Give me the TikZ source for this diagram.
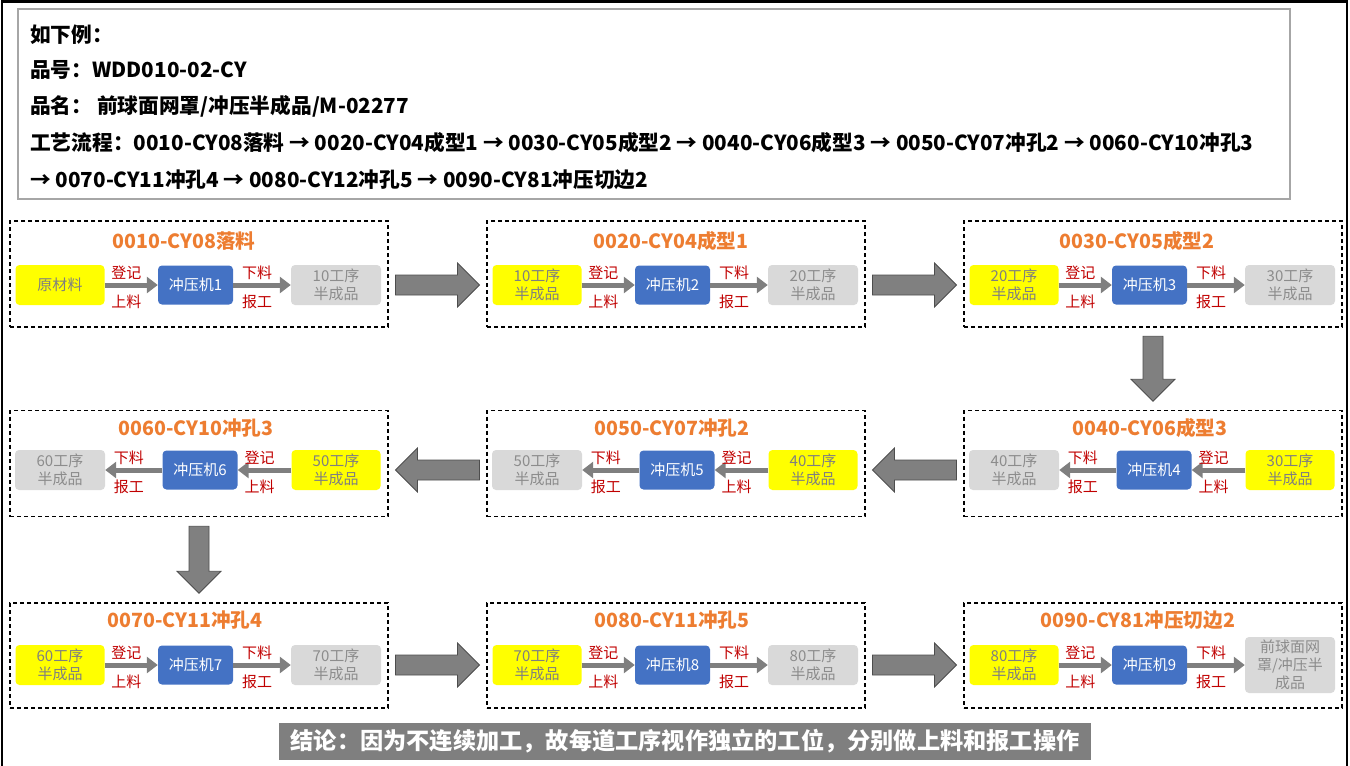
\documentclass[tikz,border=0pt]{standalone}
\usepackage{fontspec}
\setmainfont{Noto Sans CJK SC}
\usetikzlibrary{arrows.meta,calc}
\definecolor{yel}{HTML}{FFFF00}
\definecolor{blu}{HTML}{4472C4}
\definecolor{lgray}{HTML}{D9D9D9}
\definecolor{txtgray}{HTML}{7F7F7F}
\definecolor{txtgrayb}{HTML}{8C8C8C}
\definecolor{labred}{HTML}{C00000}
\definecolor{flowgray}{HTML}{7F7F7F}
\definecolor{orng}{HTML}{ED7D31}
\definecolor{arrfill}{HTML}{808080}
\definecolor{arrdark}{HTML}{4D4D4D}
\definecolor{hdrgray}{HTML}{A6A6A6}
\definecolor{bannergray}{HTML}{7F7F7F}
\tikzset{
 stage/.style={draw=black, line width=1.1pt, dash pattern=on 4pt off 3pt, minimum width=378pt, minimum height=106pt, inner sep=0pt},
 inbox/.style={rounded corners=4pt, minimum height=40pt, inner sep=1pt, align=center, font=\fontsize{15}{18}\selectfont},
 ybox/.style={inbox, fill=yel, text=txtgray, minimum width=89pt},
 bbox/.style={inbox, fill=blu, text=white, minimum width=75pt, minimum height=39pt},
 gbox/.style={inbox, fill=lgray, text=txtgrayb, minimum width=90pt},
 flow/.style={draw=flowgray, line width=5pt, -{Triangle[length=11pt,width=16pt]}},
 lab/.style={text=labred, font=\fontsize{15}{17}\selectfont, inner sep=1pt, xshift=-5pt},
 ttl/.style={text=orng, font=\bfseries\fontsize{19.6}{21}\selectfont},
 hdrtxt/.style={anchor=west, inner sep=0pt, font=\bfseries\fontsize{20.7}{22}\selectfont},
 pics/bigarr/.style={code={
   \draw[draw=arrdark, fill=arrfill, line width=0.8pt]
     (-#1/2,-10) -- (#1/2-22,-10) -- (#1/2-22,-22) -- (#1/2,0) -- (#1/2-22,22) -- (#1/2-22,10) -- (-#1/2,10) -- cycle;}},
}
\begin{document}
\begin{tikzpicture}[x=1pt,y=-1pt]
\useasboundingbox (0,0) rectangle (1350,766);
% outer frame
\draw[line width=2.5pt] (2,766) -- (2,1.5) -- (1347,1.5) -- (1347,766);
% header
\node[draw=hdrgray, line width=1.5pt, minimum width=1272pt, minimum height=190pt] (hdr) at (654,104) {};
\node[hdrtxt] (h1) at (30,35) {如下例：};
\node[hdrtxt] (h2) at (30,70) {品号：WDD010-02-CY};
\node[hdrtxt] (h3) at (30,106) {品名： 前球面网罩/冲压半成品/M-02277};
\node[hdrtxt] (h4) at (30,143) {工艺流程：0010-CY08落料 → 0020-CY04成型1 → 0030-CY05成型2 → 0040-CY06成型3 → 0050-CY07冲孔2 → 0060-CY10冲孔3};
\node[hdrtxt] (h5) at (30,180) {→ 0070-CY11冲孔4 → 0080-CY12冲孔5 → 0090-CY81冲压切边2};
% stage frames
\node[stage] (s1) at (199,274) {};
\node[stage] (s2) at (676,274) {};
\node[stage] (s3) at (1153,274) {};
\node[stage] (s4) at (1153,463.5) {};
\node[stage] (s5) at (676,463.5) {};
\node[stage] (s6) at (199,463.5) {};
\node[stage, minimum height=105pt] (s7) at (199,655.5) {};
\node[stage, minimum height=105pt] (s8) at (676,655.5) {};
\node[stage, minimum height=105pt] (s9) at (1153,655.5) {};
% titles
\node[ttl] (t1) at (184,241) {0010-CY08落料};
\node[ttl] (t2) at (671,241) {0020-CY04成型1};
\node[ttl] (t3) at (1137,241) {0030-CY05成型2};
\node[ttl] (t4) at (1150,428) {0040-CY06成型3};
\node[ttl] (t5) at (672,428) {0050-CY07冲孔2};
\node[ttl] (t6) at (196,428) {0060-CY10冲孔3};
\node[ttl] (t7) at (185,620) {0070-CY11冲孔4};
\node[ttl] (t8) at (672,620) {0080-CY11冲孔5};
\node[ttl] (t9) at (1138,620) {0090-CY81冲压切边2};
% row 1
\node[ybox] (y1) at (60,285) {原材料};
\node[bbox] (b1) at (195.5,285) {冲压机1};
\node[gbox] (g1) at (336,285) {10工序\\半成品};
\node[ybox] (y2) at (537,285) {10工序\\半成品};
\node[bbox] (b2) at (672.5,285) {冲压机2};
\node[gbox] (g2) at (813,285) {20工序\\半成品};
\node[ybox] (y3) at (1014,285) {20工序\\半成品};
\node[bbox] (b3) at (1149.5,285) {冲压机3};
\node[gbox] (g3) at (1290,285) {30工序\\半成品};
% row 2
\node[gbox] (g4) at (1014,470) {40工序\\半成品};
\node[bbox] (b4) at (1154,470) {冲压机4};
\node[ybox] (y4) at (1290,470) {30工序\\半成品};
\node[gbox] (g5) at (537,470) {50工序\\半成品};
\node[bbox] (b5) at (677,470) {冲压机5};
\node[ybox] (y5) at (813,470) {40工序\\半成品};
\node[gbox] (g6) at (60,470) {60工序\\半成品};
\node[bbox] (b6) at (200,470) {冲压机6};
\node[ybox] (y6) at (336,470) {50工序\\半成品};
% row 3
\node[ybox] (y7) at (60,665) {60工序\\半成品};
\node[bbox] (b7) at (195.5,665) {冲压机7};
\node[gbox] (g7) at (336,665) {70工序\\半成品};
\node[ybox] (y8) at (537,665) {70工序\\半成品};
\node[bbox] (b8) at (672.5,665) {冲压机8};
\node[gbox] (g8) at (813,665) {80工序\\半成品};
\node[ybox] (y9) at (1014,665) {80工序\\半成品};
\node[bbox] (b9) at (1149.5,665) {冲压机9};
\node[gbox, minimum height=56pt] (g9) at (1290,665) {前球面网\\罩/冲压半\\成品};
% flow connectors
\foreach \i in {1,2,3,4,5,6,7,8,9}{
  \draw[flow] (y\i) -- node[lab, above=2pt]{登记} node[lab, below=6pt]{上料} (b\i);
  \draw[flow] (b\i) -- node[lab, above=2pt]{下料} node[lab, below=6pt]{报工} (g\i);
}
% big arrows between stages
\coordinate (m12) at ($(s1.east)!.5!(s2.west)$);
\coordinate (m23) at ($(s2.east)!.5!(s3.west)$);
\coordinate (m34) at ($(s3.south)!.5!(s4.north)$);
\coordinate (m45) at ($(s4.west)!.5!(s5.east)$);
\coordinate (m56) at ($(s5.west)!.5!(s6.east)$);
\coordinate (m67) at ($(s6.south)!.5!(s7.north)$);
\coordinate (m78) at ($(s7.east)!.5!(s8.west)$);
\coordinate (m89) at ($(s8.east)!.5!(s9.west)$);
\pic at (m12 |- y1) {bigarr=84};
\pic at (m23 |- y2) {bigarr=84};
\pic[rotate=-90] at (m34) {bigarr=65};
\pic[rotate=180] at (m45 |- b4) {bigarr=84};
\pic[rotate=180] at (m56 |- b5) {bigarr=84};
\pic[rotate=-90] at (m67) {bigarr=67};
\pic at (m78 |- b7) {bigarr=84};
\pic at (m89 |- b8) {bigarr=84};
% conclusion banner
\node[fill=bannergray, text=white, font=\bfseries\fontsize{23.2}{25}\selectfont, minimum width=812pt, minimum height=37pt, inner sep=0pt] (concl) at (685,741.5) {结论：因为不连续加工，故每道工序视作独立的工位，分别做上料和报工操作};
\end{tikzpicture}
\end{document}
